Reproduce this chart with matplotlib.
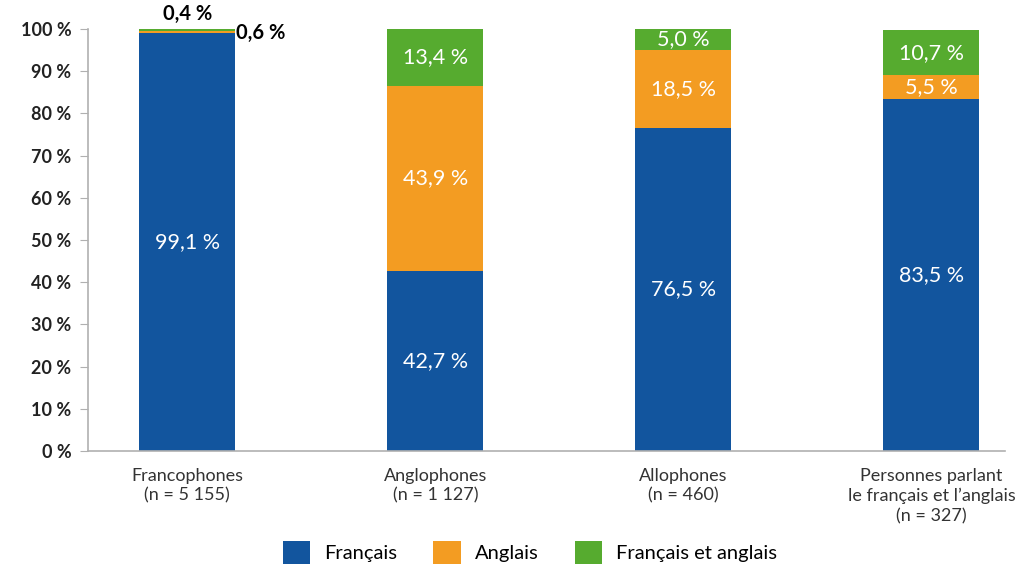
import numpy as np
import matplotlib.pyplot as plt

categories = ["Francophones\n(n = 5 155)", "Anglophones\n(n = 1 127)", "Allophones\n(n = 460)",
              "Personnes parlant\nle français et l\u2019anglais\n(n = 327)"]
francais = [99.1, 42.7, 76.5, 83.5]
anglais = [0.4, 43.9, 18.5, 5.5]
fr_et_an = [0.6, 13.4, 5.0, 10.7]
series_names = ["Français", "Anglais", "Français et anglais"]

colors = ["#12559e", "#f39c22", "#56ab2f"]
plt.rcParams['font.family'] = ['Lato', 'DejaVu Sans']

fig = plt.figure(figsize=(10.23, 5.65), dpi=100)
ax = fig.add_axes([0.086, 0.2018, 0.896, 0.7469])

x = np.arange(len(categories))
w = 0.387
bottom = np.zeros(len(categories))
for vals, col, name in zip([francais, anglais, fr_et_an], colors, series_names):
    bars = ax.bar(x, vals, w, bottom=bottom, color=col, label=name, clip_on=False)
    for i, (b, v) in enumerate(zip(bottom, vals)):
        if v < 2:
            continue
        ax.text(x[i], b + v / 2, f"{v:.1f} %".replace(".", ","), ha="center", va="center",
                color="white", fontsize=15.5)
    bottom = bottom + np.array(vals)

# small segments on the first bar
ax.text(x[0], bottom[0] + 1.0, f"{anglais[0]:.1f} %".replace(".", ","), ha="center", va="bottom",
        color="black", fontsize=14.5, fontweight="bold")
ax.text(x[0] + w / 2 + 0.005, francais[0] + anglais[0] - 0.5, f"{fr_et_an[0]:.1f} %".replace(".", ","),
        ha="left", va="center", color="black", fontsize=14.5, fontweight="bold")

ax.set_xlim(-0.40, 3.295)
ax.set_ylim(0, 100)
ax.set_yticks(np.arange(0, 101, 10))
ax.set_yticklabels([f"{t} %" for t in range(0, 101, 10)], fontsize=13, fontweight="bold", color="#222222")
ax.set_xticks(x)
ax.set_xticklabels(categories, fontsize=13, color="#333333", linespacing=1.3)
ax.tick_params(axis="x", length=0, pad=12)
ax.tick_params(axis="y", length=6, color="#b0b0b0", pad=6)
for s in ["top", "right"]:
    ax.spines[s].set_visible(False)
for s in ["left", "bottom"]:
    ax.spines[s].set_color("#b0b0b0")
    ax.spines[s].set_linewidth(1.2)

fig.legend(loc="lower center", ncol=3, frameon=False, fontsize=14.5, bbox_to_anchor=(0.518, -0.03),
           handlelength=1.35, handleheight=1.35, columnspacing=1.8, handletextpad=0.7)

fig.savefig("out.png", dpi=100)
